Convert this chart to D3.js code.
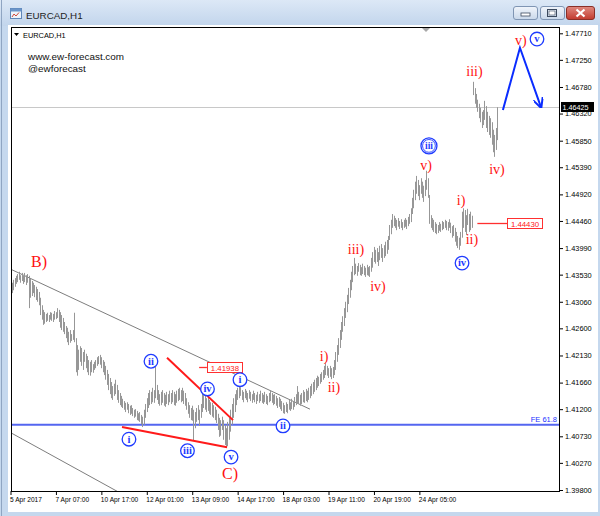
<!DOCTYPE html>
<html><head><meta charset="utf-8">
<script src="https://cdn.jsdelivr.net/npm/d3@7"></script>
<style>body{margin:0;background:#fff}svg{display:block}</style>
</head><body>
<script>
// ---------------- DATA ----------------
const highs = [
1.4339,1.4344,1.4347,1.4351,1.4354,1.4358,1.4352,1.4356,1.4351,1.4356,1.4352,1.4354,
1.4351,1.4346,1.4342,1.4339,1.4335,1.4332,1.4328,1.4323,
1.4313,1.4300,1.4292,1.4288,1.4285,1.4287,1.4283,1.4288,1.4287,1.4285,1.4290,1.4288,
1.4295,1.4292,1.4288,1.4283,1.4278,1.4271,1.4264,1.4261,1.4254,1.4257,1.4250,1.4257,1.4287,
1.4243,1.4231,1.4223,1.4229,1.4226,1.4219,1.4223,1.4216,1.4212,1.4205,1.4202,1.4205,1.4198,1.4202,1.4205,1.4210,1.4212,1.4214,
1.4210,1.4205,1.4202,1.4195,1.4188,1.4181,1.4174,1.4167,1.4160,1.4164,1.4171,1.4162,1.4153,1.4148,1.4143,1.4138,1.4134,1.4131,1.4132,1.4129,1.4126,1.4127,1.4122,1.4119,1.4120,1.4117,1.4113,1.4115,1.4110,1.4107,
1.4119,1.4129,1.4139,1.4148,1.4153,1.4150,1.4157,1.4153,1.4193,
1.4162,1.4153,1.4146,1.4150,1.4153,1.4148,1.4145,1.4150,1.4146,1.4152,1.4148,1.4153,1.4150,1.4146,1.4152,1.4155,1.4157,1.4153,1.4157,1.4152,1.4148,
1.4139,1.4132,1.4127,1.4122,1.4126,1.4119,
1.4115,1.4122,1.4127,1.4119,1.4129,1.4152,
1.4146,1.4143,1.4139,1.4141,1.4136,1.4132,1.4131,1.4127,1.4124,1.4119,1.4112,1.4105,1.4101,1.4107,1.4101,1.4093,1.4087,1.4098,
1.4105,1.4119,1.4129,1.4139,1.4146,1.4153,1.4157,1.4160,1.4158,
1.4153,1.4150,1.4155,1.4152,1.4148,1.4153,1.4150,1.4146,1.4152,1.4148,1.4145,1.4150,1.4146,1.4152,1.4148,1.4145,1.4150,1.4146,1.4143,1.4148,1.4152,1.4148,1.4145,1.4146,1.4143,1.4139,1.4141,1.4138,
1.4134,1.4131,1.4127,1.4132,1.4129,1.4136,1.4132,1.4138,1.4134,
1.4141,1.4146,1.4160,1.4150,1.4145,1.4148,1.4153,1.4150,1.4155,1.4152,1.4157,1.4160,
1.4164,1.4167,1.4171,1.4174,1.4178,1.4176,1.4181,1.4184,1.4188,1.4195,1.4200,
1.4195,1.4191,1.4195,1.4191,1.4193,
1.4205,1.4219,1.4231,1.4243,1.4257,1.4271,1.4281,1.4295,1.4306,1.4318,1.4330,1.4344,1.4358,1.4368,1.4382,
1.4372,1.4368,1.4373,1.4370,1.4366,1.4372,1.4368,1.4365,1.4370,1.4366,1.4368,
1.4382,1.4392,1.4401,1.4396,1.4399,1.4392,1.4403,1.4406,1.4399,1.4404,1.4410,1.4413,1.4420,
1.4439,1.4448,1.4458,1.4455,1.4451,1.4448,1.4451,1.4446,1.4449,1.4444,1.4448,1.4451,1.4448,1.4453,1.4458,
1.4468,1.4486,1.4500,1.4514,1.4524,
1.4517,1.4508,1.4520,1.4514,1.4507,1.4517,1.4533,1.4520,
1.4491,1.4456,1.4451,1.4448,1.4444,1.4441,1.4439,1.4444,1.4441,1.4446,1.4444,1.4448,1.4446,1.4444,1.4449,1.4443,1.4437,1.4439,
1.4434,1.4427,1.4420,1.4417,1.4427,
1.4462,1.4468,1.4465,1.4456,1.4467,1.4458,1.4462,1.4455,
1.4687,1.4676,1.4666,1.4656,1.4649,1.4642,1.4635,1.4638,1.4654,1.4645,1.4635,1.4628,1.4624,1.4617,1.4604,1.4595,1.4607,1.4643
];
const lows = [
1.4321,1.4326,1.4332,1.4337,1.4340,1.4344,1.4339,1.4342,1.4337,1.4340,1.4335,1.4339,
1.4295,1.4313,1.4316,1.4321,1.4314,1.4309,1.4306,1.4300,
1.4283,1.4275,1.4266,1.4268,1.4271,1.4273,1.4271,1.4275,1.4273,1.4271,1.4275,1.4276,
1.4278,1.4271,1.4261,1.4257,1.4254,1.4250,1.4243,1.4236,1.4231,1.4235,1.4238,1.4240,1.4236,
1.4184,1.4178,1.4188,1.4202,1.4195,1.4188,1.4202,1.4191,1.4184,1.4179,1.4178,1.4184,1.4183,1.4188,1.4191,1.4195,1.4198,1.4197,
1.4191,1.4184,1.4179,1.4171,1.4162,1.4153,1.4146,1.4139,1.4136,1.4143,1.4146,1.4136,1.4131,1.4127,1.4124,1.4122,1.4119,1.4115,1.4119,1.4113,1.4110,1.4112,1.4108,1.4105,1.4107,1.4101,1.4100,1.4098,1.4094,1.4089,
1.4093,1.4105,1.4115,1.4122,1.4127,1.4129,1.4132,1.4131,1.4139,
1.4136,1.4129,1.4126,1.4127,1.4131,1.4126,1.4124,1.4129,1.4127,1.4132,1.4129,1.4132,1.4127,1.4126,1.4131,1.4134,1.4136,1.4132,1.4134,1.4129,1.4126,
1.4119,1.4112,1.4105,1.4101,1.4100,1.4065,
1.4087,1.4098,1.4101,1.4091,1.4105,1.4115,
1.4122,1.4119,1.4115,1.4117,1.4112,1.4110,1.4107,1.4105,1.4101,1.4096,1.4084,1.4072,1.4074,1.4084,1.4067,1.4058,1.4053,1.4056,
1.4067,1.4081,1.4093,1.4105,1.4115,1.4127,1.4136,1.4139,1.4143,
1.4136,1.4132,1.4139,1.4136,1.4132,1.4138,1.4134,1.4131,1.4136,1.4132,1.4129,1.4134,1.4131,1.4134,1.4131,1.4129,1.4132,1.4129,1.4127,1.4132,1.4134,1.4131,1.4127,1.4129,1.4126,1.4122,1.4124,1.4120,
1.4117,1.4113,1.4112,1.4115,1.4113,1.4119,1.4117,1.4120,1.4119,
1.4124,1.4127,1.4129,1.4129,1.4126,1.4129,1.4132,1.4131,1.4134,1.4132,1.4136,1.4139,
1.4143,1.4146,1.4150,1.4153,1.4157,1.4160,1.4164,1.4167,1.4171,1.4174,1.4179,
1.4178,1.4174,1.4176,1.4172,1.4174,
1.4179,1.4188,1.4202,1.4214,1.4226,1.4240,1.4254,1.4264,1.4278,1.4288,1.4302,1.4313,1.4326,1.4340,1.4352,
1.4354,1.4351,1.4358,1.4352,1.4351,1.4354,1.4352,1.4349,1.4352,1.4351,1.4349,
1.4358,1.4365,1.4375,1.4372,1.4375,1.4368,1.4378,1.4382,1.4375,1.4382,1.4385,1.4389,1.4396,
1.4413,1.4423,1.4434,1.4437,1.4434,1.4430,1.4436,1.4432,1.4434,1.4430,1.4434,1.4436,1.4432,1.4437,1.4441,
1.4444,1.4458,1.4468,1.4482,1.4493,
1.4489,1.4482,1.4493,1.4486,1.4479,1.4489,1.4500,1.4486,
1.4441,1.4434,1.4430,1.4427,1.4425,1.4423,1.4425,1.4429,1.4427,1.4430,1.4432,1.4434,1.4430,1.4429,1.4434,1.4425,1.4417,1.4420,
1.4410,1.4403,1.4399,1.4396,1.4403,
1.4417,1.4434,1.4427,1.4422,1.4439,1.4427,1.4430,1.4434,
1.4664,1.4649,1.4642,1.4635,1.4624,1.4617,1.4607,1.4612,1.4621,1.4607,1.4600,1.4595,1.4590,1.4578,1.4565,1.4557,1.4569,1.4586
];
const priceTicks = [1.47710,1.47250,1.46780,1.46320,1.45850,1.45390,1.44920,1.44460,1.43990,1.43530,1.43060,1.42600,1.42130,1.41660,1.41200,1.40730,1.40270,1.39800];
const timeLabels = ["5 Apr 2017","7 Apr 07:00","10 Apr 17:00","12 Apr 01:00","13 Apr 09:00","14 Apr 17:00","18 Apr 03:00","19 Apr 11:00","20 Apr 19:00","24 Apr 05:00"];
const timeLabelBars = [0,32,64,96,128,160,192,224,256,288];
const currentPrice = 1.46425;
const fePrice = 1.4093;
const redLabels = [
 ["B)",19.2,1.4366],["C)",153.8,1.3999],["i)",220.0,1.4203],["ii)",227.0,1.4150],
 ["iii)",242.5,1.4389],["iv)",258.0,1.4325],["v)",291.8,1.4534],["i)",316.5,1.4474],
 ["ii)",324.2,1.4406],["iii)",326.0,1.4697],["iv)",341.8,1.4527],["v)",358.7,1.4751]
];
const circleLabels = [
 ["i",82.6,1.4068],["ii",98.1,1.4203],["iii",123.8,1.4048],["iv",137.9,1.4155],["v",154.5,1.4037],
 ["i",160.8,1.4171],["ii",191.1,1.4091],["iii",293.9,1.4576],["iv",317.2,1.4373],["v",370.0,1.4761]
];
const doubleCircle = [false,false,false,false,false,false,false,true,false,false];
const channelUpper = [[-1.2,1.4363],[210.1,1.4120]];
const channelLower = [[-0.5,1.4079],[80,1.3970]];
const redUpper = [[109.4,1.4209],[155.9,1.4101]];
const redLower = [[77.7,1.4089],[151.7,1.4054]];
const blueProjection = [[346,1.4638],[358,1.4746],[372.8,1.4643]];
const priceMarks = [[1.41938,132,137.5],[1.44430,328,348.9]];

// ---------------- LAYOUT ----------------
const W=600,H=516, L=11, T=27, R=559, B=491;
const x = d3.scaleLinear().domain([0,385]).range([11.7, 11.7+385*1.4197]);
const y = d3.scaleLinear().domain([1.398,1.4771]).range([490,33.3]);
const axisFont = "'Liberation Sans', Arial, sans-serif";
const serif = "'Liberation Serif', 'Times New Roman', serif";

const svg = d3.select("body").append("svg").attr("width",W).attr("height",H);
const defs = svg.append("defs");
const tg = defs.append("linearGradient").attr("id","tg").attr("x1",0).attr("y1",0).attr("x2",0).attr("y2",1);
tg.append("stop").attr("offset","0").attr("stop-color","#dce8f6");
tg.append("stop").attr("offset","1").attr("stop-color","#c2d5ec");
const bg = defs.append("linearGradient").attr("id","bg").attr("x1",0).attr("y1",0).attr("x2",0).attr("y2",1);
bg.append("stop").attr("offset","0").attr("stop-color","#f1f5fb");
bg.append("stop").attr("offset","1").attr("stop-color","#c9d8ea");
const cg = defs.append("linearGradient").attr("id","cg").attr("x1",0).attr("y1",0).attr("x2",0).attr("y2",1);
cg.append("stop").attr("offset","0").attr("stop-color","#e08a80");
cg.append("stop").attr("offset","1").attr("stop-color","#c23a2e");
defs.append("clipPath").attr("id","plot").append("rect").attr("x",L+1).attr("y",T+1).attr("width",R-L-1).attr("height",B-T-1);

// window chrome
svg.append("rect").attr("width",W).attr("height",H).attr("fill","#c5d8ee");
svg.append("rect").attr("width",W).attr("height",26).attr("fill","url(#tg)");
svg.append("line").attr("x1",1.5).attr("x2",1.5).attr("y1",0).attr("y2",H).attr("stroke","#8fa5c2");
svg.append("rect").attr("x",8).attr("y",25).attr("width",590).attr("height",487).attr("fill","#fff");
// icon
svg.append("rect").attr("x",10.5).attr("y",8.5).attr("width",11).attr("height",10).attr("fill","#eef4fb").attr("stroke","#5f87b8");
svg.append("rect").attr("x",10.5).attr("y",8.5).attr("width",11).attr("height",3).attr("fill","#6b95c9");
svg.append("path").attr("d","M12,17 L14,14 L16,16 L19,12.5").attr("fill","none").attr("stroke","#d04a3a").attr("stroke-width",1);
svg.append("text").attr("x",26).attr("y",19).attr("font-family",axisFont).attr("font-size",9.8).attr("fill","#1e1e1e").text("EURCAD,H1");
// buttons
[[513,24],[540,24]].forEach(([bx,bw])=>{
  svg.append("rect").attr("x",bx+0.5).attr("y",6.5).attr("width",bw).attr("height",13).attr("rx",2.5).attr("fill","url(#bg)").attr("stroke","#7f95b3");
});
svg.append("rect").attr("x",521).attr("y",13).attr("width",9).attr("height",3).attr("fill","#fff").attr("stroke","#3c4a5e").attr("stroke-width",0.8);
svg.append("rect").attr("x",547.5).attr("y",9.5).attr("width",9).attr("height",7).attr("fill","none").attr("stroke","#3c4a5e").attr("stroke-width",1);
svg.append("rect").attr("x",549).attr("y",11).attr("width",6).attr("height",4).attr("fill","#fff").attr("stroke","#3c4a5e").attr("stroke-width",0.6);
svg.append("rect").attr("x",566.5).attr("y",6.5).attr("width",28).attr("height",13).attr("rx",2.5).attr("fill","url(#cg)").attr("stroke","#8a2f27");
svg.append("path").attr("d","M576.5,9.5 L584.5,16.5 M584.5,9.5 L576.5,16.5").attr("stroke","#fff").attr("stroke-width",2.2);

// plot frame
svg.append("rect").attr("x",L+0.5).attr("y",T+0.5).attr("width",R-L).attr("height",B-T).attr("fill","#fff").attr("stroke","#000");

const plot = svg.append("g").attr("clip-path","url(#plot)");
const line = d3.line().x(d=>x(d[0])).y(d=>y(d[1]));

// grey current price line
plot.append("line").attr("x1",L).attr("x2",R).attr("y1",Math.round(y(currentPrice))+0.5).attr("y2",Math.round(y(currentPrice))+0.5).attr("stroke","#c8c8c8");
// channel lines
[channelUpper,channelLower].forEach(p=>plot.append("path").attr("d",line(p)).attr("fill","none").attr("stroke","#6e6e6e").attr("stroke-width",0.9));
// FE line
plot.append("line").attr("x1",L).attr("x2",R).attr("y1",y(fePrice)).attr("y2",y(fePrice)).attr("stroke","#5466f0").attr("stroke-width",1.8);

// bars
plot.append("g").selectAll("line").data(d3.range(highs.length)).join("line")
  .attr("x1",i=>Math.round(x(i))+0.5).attr("x2",i=>Math.round(x(i))+0.5)
  .attr("y1",i=>y(highs[i])).attr("y2",i=>y(lows[i]))
  .attr("stroke","#979797").attr("stroke-width",1);

// red trend lines
[redUpper,redLower].forEach(p=>plot.append("path").attr("d",line(p)).attr("fill","none").attr("stroke","#ff1a1a").attr("stroke-width",2));

// blue projection with arrow
defs.append("marker").attr("id","arr").attr("viewBox","0 0 10 10").attr("refX",9).attr("refY",5)
  .attr("markerWidth",5).attr("markerHeight",5).attr("orient","auto")
  .append("path").attr("d","M0,0 L10,5 L0,10").attr("fill","none").attr("stroke","#0a2cff").attr("stroke-width",2);
plot.append("path").attr("d",line(blueProjection)).attr("fill","none").attr("stroke","#0a2cff").attr("stroke-width",2).attr("marker-end","url(#arr)");

// price marks (red)
priceMarks.forEach(([p,a,b])=>{
  const yy=Math.round(y(p))+0.5;
  plot.append("line").attr("x1",x(a)).attr("x2",x(b)).attr("y1",yy).attr("y2",yy).attr("stroke","#ff3030").attr("stroke-width",1.3);
  const t = d3.format(".5f")(p);
  plot.append("rect").attr("x",Math.round(x(b))+0.5).attr("y",yy-5).attr("width",35).attr("height",10).attr("fill","#fff").attr("stroke","#ff3030");
  plot.append("text").attr("x",x(b)+18).attr("y",yy+3).attr("text-anchor","middle").attr("font-family",axisFont).attr("font-size",7.8).attr("fill","#ff2020").text(t);
});

// FE label
plot.append("text").attr("x",R-2).attr("y",y(fePrice)-2.5).attr("text-anchor","end").attr("font-family",axisFont).attr("font-size",7.5).attr("fill","#2030ff").text("FE 61.8");

// red wave labels
plot.append("g").selectAll("text").data(redLabels).join("text")
  .attr("x",d=>x(d[1])).attr("y",d=>y(d[2])).attr("text-anchor","middle")
  .attr("font-family",serif).attr("font-size",d=>/[A-Z]/.test(d[0])?16:14)
  .attr("fill","#ff1010").text(d=>d[0]);

// circled labels
const cl = plot.append("g").selectAll("g").data(circleLabels).join("g")
  .attr("transform",d=>`translate(${x(d[1])},${y(d[2])})`);
cl.append("circle").attr("r",(d,i)=>doubleCircle[i]?8:6.8).attr("fill","#fff").attr("stroke","#1f3cff").attr("stroke-width",1.3);
cl.filter((d,i)=>doubleCircle[i]).append("circle").attr("r",6.4).attr("fill","none").attr("stroke","#1f3cff").attr("stroke-width",0.9);
cl.append("text").attr("y",(d,i)=>doubleCircle[i]?3.1:3.4).attr("text-anchor","middle").attr("font-family",serif).attr("font-weight","bold")
  .attr("font-size",(d,i)=>doubleCircle[i]?9.5:10.5).attr("fill","#1f3cff").text(d=>d[0]);

// watermark texts
svg.append("path").attr("d","M14,33 L19,33 L16.5,36 Z").attr("fill","#000");
svg.append("text").attr("x",23).attr("y",37.5).attr("font-family",axisFont).attr("font-size",7.4).attr("fill","#000").text("EURCAD,H1");
svg.append("text").attr("x",28).attr("y",59.5).attr("font-family",axisFont).attr("font-size",9.9).attr("fill","#111").text("www.ew-forecast.com");
svg.append("text").attr("x",28).attr("y",71.5).attr("font-family",axisFont).attr("font-size",9.9).attr("fill","#111").text("@ewforecast");
// shift marker
svg.append("path").attr("d","M422,28 L430,28 L426,32 Z").attr("fill","#a8a8a8");

// axes
const yAxis = svg.append("g").attr("transform",`translate(${R},0)`)
  .call(d3.axisRight(y).tickValues(priceTicks).tickSize(4).tickPadding(2).tickFormat(d3.format(".5f")));
yAxis.select(".domain").remove();
yAxis.selectAll("text").attr("font-family",axisFont).attr("font-size",7.4).attr("fill","#000");
yAxis.selectAll("line").attr("stroke","#000");

const xAxis = svg.append("g").attr("transform",`translate(-1.2,${B})`)
  .call(d3.axisBottom(x).tickValues(timeLabelBars).tickSize(4).tickPadding(2).tickFormat((d,i)=>timeLabels[i]));
xAxis.select(".domain").remove();
xAxis.selectAll("text").attr("text-anchor","start").attr("dx",-1).attr("font-family",axisFont).attr("font-size",6.6).attr("fill","#000");
xAxis.selectAll("line").attr("stroke","#000");

// current price box (drawn over the axis, as in the terminal)
const cy = y(currentPrice);
svg.append("rect").attr("x",561).attr("y",cy-5.5).attr("width",33).attr("height",10).attr("fill","#000");
svg.append("text").attr("x",562.5).attr("y",cy+2.2).attr("font-family",axisFont).attr("font-size",7.2).attr("fill","#fff").text(d3.format(".5f")(currentPrice));
</script>
</body></html>
